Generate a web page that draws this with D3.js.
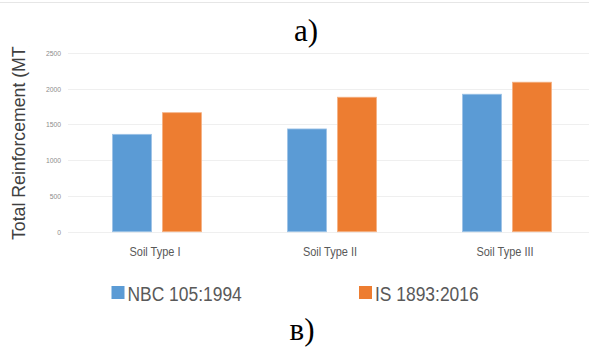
<!doctype html>
<html>
<head>
<meta charset="UTF-8">
<title>Total Reinforcement</title>
<script src="https://d3js.org/d3.v7.min.js"></script>
<style>
  body { margin: 0; background: #fff; }
  svg { display: block; }
</style>
</head>
<body>
<svg id="chart" width="589" height="347"></svg>
<script>
// chart data
const categories = ["Soil Type I", "Soil Type II", "Soil Type III"];
const seriesNames = ["NBC 105:1994", "IS 1893:2016"];
const nbcValues = [1360, 1435, 1920];
const isValues = [1662, 1878, 2088];
const yTicks = [0, 500, 1000, 1500, 2000, 2500];
const colors = ["#5b9bd5", "#ed7d31"];
const strokes = ["#9dc3e6", "#f4b183"];

const svg = d3.select("#chart");
const W = 589, H = 347;
const narrow = "Liberation Sans Narrow, Liberation Sans, sans-serif";

// thin line at the very top
svg.append("line")
  .attr("x1", 0).attr("x2", W).attr("y1", 2.5).attr("y2", 2.5)
  .attr("stroke", "#e6e6e6");

const x0 = d3.scaleBand().domain(categories).range([68.5, 593.5]);
const x1 = d3.scaleBand().domain(seriesNames).range([44, 133]).paddingInner(0.22);
const y = d3.scaleLinear().domain([0, 2500]).range([231.7, 52.7]);

// gridlines
svg.append("g")
  .selectAll("line").data(yTicks).join("line")
  .attr("x1", 68).attr("x2", W)
  .attr("y1", d => Math.round(y(d)) + 0.5).attr("y2", d => Math.round(y(d)) + 0.5)
  .attr("stroke", "#efefef");

// y tick labels
const yAxis = d3.axisLeft(y).tickValues(yTicks).tickFormat(d3.format("d"))
  .tickSize(0).tickPadding(0);
svg.append("g")
  .attr("transform", "translate(61,0)")
  .call(yAxis)
  .call(g => g.select(".domain").remove())
  .call(g => g.selectAll("text")
    .attr("font-family", narrow)
    .attr("font-size", 8)
    .attr("fill", "#8c8c8c")
    .attr("transform", "scale(0.85,1)"));

// bars
const rows = categories.map((c, i) => ({ cat: c, vals: [nbcValues[i], isValues[i]] }));
const groups = svg.append("g").selectAll("g").data(rows).join("g")
  .attr("transform", d => `translate(${x0(d.cat)},0)`);
groups.selectAll("rect")
  .data(d => d.vals.map((v, j) => ({ name: seriesNames[j], v, j })))
  .join("rect")
  .attr("x", d => x1(d.name))
  .attr("width", x1.bandwidth())
  .attr("y", d => y(d.v))
  .attr("height", d => y(0) - y(d.v))
  .attr("fill", d => colors[d.j])
  .attr("stroke", d => strokes[d.j])
  .attr("stroke-width", 0.8);

// x labels
const xAxis = d3.axisBottom(x0).tickSize(0).tickPadding(0);
svg.append("g")
  .attr("transform", "translate(-1,247)")
  .call(xAxis)
  .call(g => g.select(".domain").remove())
  .call(g => g.selectAll("text")
    .attr("font-family", narrow)
    .attr("font-size", 12.5)
    .attr("fill", "#595959")
    .attr("transform", "scale(0.88,1)"));

// y axis title (clipped at top as in the source)
svg.append("clipPath").attr("id", "ttlclip")
  .append("rect").attr("x", 0).attr("y", 46).attr("width", 40).attr("height", 220);
svg.append("g")
  .attr("clip-path", "url(#ttlclip)")
  .append("text")
  .attr("transform", "translate(25,240) rotate(-90)")
  .attr("font-family", "Liberation Sans, sans-serif")
  .attr("font-size", 17.7)
  .attr("fill", "#404040")
  .text("Total Reinforcement (MT)");

// legend
const legX = [111.5, 359];
const leg = svg.append("g").selectAll("g").data(seriesNames).join("g")
  .attr("transform", (d, i) => `translate(${legX[i]},286)`);
leg.append("rect").attr("width", 13).attr("height", 13)
  .attr("fill", (d, i) => colors[i]);
leg.append("text")
  .attr("transform", "translate(16,14.5) scale(0.85,1)")
  .attr("font-family", narrow)
  .attr("font-size", 20.5)
  .attr("fill", "#595959")
  .text(d => d);

// panel labels
svg.append("text")
  .attr("x", 306).attr("y", 41).attr("text-anchor", "middle")
  .attr("font-family", "Liberation Serif, Times New Roman, serif")
  .attr("font-size", 31).attr("fill", "#000")
  .text("a)");
svg.append("text")
  .attr("x", 302).attr("y", 340).attr("text-anchor", "middle")
  .attr("font-family", "Liberation Serif, Times New Roman, serif")
  .attr("font-size", 31).attr("fill", "#000")
  .text("в)");
</script>
</body>
</html>
